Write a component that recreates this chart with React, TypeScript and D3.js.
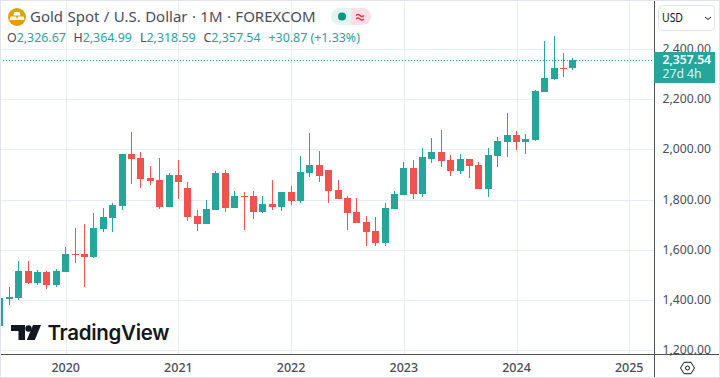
import React from "react";
import * as d3 from "d3";

const W = 720, H = 378;
const months = ["2019-06","2019-07","2019-08","2019-09","2019-10","2019-11","2019-12","2020-01","2020-02","2020-03","2020-04","2020-05","2020-06","2020-07","2020-08","2020-09","2020-10","2020-11","2020-12","2021-01","2021-02","2021-03","2021-04","2021-05","2021-06","2021-07","2021-08","2021-09","2021-10","2021-11","2021-12","2022-01","2022-02","2022-03","2022-04","2022-05","2022-06","2022-07","2022-08","2022-09","2022-10","2022-11","2022-12","2023-01","2023-02","2023-03","2023-04","2023-05","2023-06","2023-07","2023-08","2023-09","2023-10","2023-11","2023-12","2024-01","2024-02","2024-03","2024-04","2024-05","2024-06","2024-07"];
const opens = [1299,1405,1409,1517,1469,1513,1461,1513,1584,1584,1572,1683,1727,1775,1985,1966,1886,1878,1771,1898,1846,1735,1703,1759,1906,1767,1815,1815,1752,1784,1772,1831,1795,1906,1938,1918,1839,1807,1752,1712,1677,1629,1764,1819,1926,1823,1965,1993,1961,1914,1965,1938,1842,1977,2033,2061,2033,2041,2229,2281,2328,2326.67];
const highs = [1409,1453,1556,1556,1521,1517,1525,1612,1687,1703,1747,1767,1787,1985,2073,1993,1934,1966,1906,1958,1870,1759,1799,1914,1918,1834,1831,1835,1815,1878,1831,1855,1974,2069,1997,1918,1878,1815,1807,1736,1732,1787,1835,1950,1958,2009,2049,2081,1981,1985,1965,1953,2009,2053,2145,2077,2065,2237,2432,2452,2388,2364.99];
const lows = [1299,1381,1401,1465,1461,1445,1453,1513,1548,1453,1568,1672,1672,1759,1862,1846,1858,1763,1771,1803,1715,1676,1703,1759,1751,1767,1681,1724,1748,1760,1756,1780,1787,1890,1871,1787,1803,1681,1708,1617,1617,1617,1764,1819,1803,1811,1949,1930,1894,1902,1886,1842,1810,1930,1973,2001,1985,2037,2229,2277,2289,2318.59];
const closes = [1409,1413,1517,1469,1513,1461,1517,1584,1580,1572,1687,1731,1779,1985,1962,1882,1874,1771,1898,1870,1731,1703,1763,1906,1767,1815,1811,1752,1784,1772,1831,1795,1910,1938,1894,1835,1803,1748,1708,1673,1629,1768,1823,1926,1823,1970,1993,1957,1914,1965,1934,1842,1981,2037,2061,2033,2045,2233,2285,2328,2324,2357.54];
const priceTicks = [1200,1400,1600,1800,2000,2200,2400];
const yearTicks = [2020,2021,2022,2023,2024,2025];

const UP = "#26a69a", DOWN = "#ef5350", GRID = "#e6edf3", AXIS = "#50535e", TEXT = "#4a4d57";
const FONT = "'Noto Sans', 'Open Sans', sans-serif";

const y = d3.scaleLinear().domain([1200, 2400]).range([350.5, 49.5]);
const monthIndex = (m: string) => { const [a, b] = m.split("-").map(Number); return (a - 2020) * 12 + (b - 1); };
const x = d3.scaleLinear().domain([0, 12]).range([65.7, 178.4]);
const fmt = d3.format(",.2f");
const snap = (v: number) => Math.round(v);

export default function App() {
  const last = closes[closes.length - 1];
  return (
    <svg width={W} height={H} viewBox={`0 0 ${W} ${H}`} style={{ position: "fixed", left: 0, top: 0, background: "#fff", fontFamily: FONT }}>
      <rect x={0} y={0} width={W} height={H} fill="#fff" />
      <g shapeRendering="crispEdges">
        {yearTicks.map(t => <line key={t} x1={snap(x(monthIndex(`${t}-01`)))+0.5} x2={snap(x(monthIndex(`${t}-01`)))+0.5} y1={0} y2={354} stroke={GRID} />)}
        {priceTicks.map(t => <line key={t} x1={0} x2={654} y1={Math.floor(y(t))+0.5} y2={Math.floor(y(t))+0.5} stroke={GRID} />)}
      </g>
      <g shapeRendering="crispEdges">
        {months.map((m, i) => {
          const cx = Math.floor(x(monthIndex(m)));
          const c = closes[i] >= opens[i] ? UP : DOWN;
          const top = Math.round(y(Math.max(opens[i], closes[i])));
          const bot = Math.round(y(Math.min(opens[i], closes[i])));
          return (
            <g key={m}>
              <rect x={cx} y={y(highs[i])} width={1} height={y(lows[i]) - y(highs[i])} fill={c} />
              <rect x={cx - 3} y={top} width={7} height={Math.max(1, bot - top)} fill={c} />
            </g>
          );
        })}
      </g>
      <line x1={0} x2={654} y1={Math.floor(y(last))+0.5} y2={Math.floor(y(last))+0.5} stroke={UP} strokeDasharray="1 2" />

      {/* legend */}
      <g>
        <circle cx={17} cy={17} r={9} fill="#e0a100" />
        <path d="M14.5 12h5l1.2 3.6h-7.4z M10.5 16.6h5.6l1 3.4h-7.6z M17.9 16.6h5.6l1 3.4h-7.6z" fill="#fff" />
        <text x={30} y={22} fontSize={15} wordSpacing={0.5} fill={TEXT}>Gold Spot / U.S. Dollar · 1M · FOREXCOM</text>
        <path d="M351 8h-11.5a8.5 8.5 0 0 0 0 17H351z" fill="#e3f4f1" />
        <path d="M351 8h11.5a8.5 8.5 0 0 1 0 17H351z" fill="#fde0e6" />
        <circle cx={342} cy={16.5} r={4} fill="#089981" />
        <path d="M356 15.5q2-2 4 0t4 0M356 19q2-2 4 0t4 0" fill="none" stroke="#f23645" strokeWidth={1.3} />
        <text y={42} fontSize={12.4}>
          <tspan x={7} fill={TEXT}>O</tspan><tspan fill={UP}>2,326.67</tspan>
          <tspan x={73.5} fill={TEXT}>H</tspan><tspan fill={UP}>2,364.99</tspan>
          <tspan x={140} fill={TEXT}>L</tspan><tspan fill={UP}>2,318.59</tspan>
          <tspan x={203.5} fill={TEXT}>C</tspan><tspan fill={UP}>2,357.54</tspan>
          <tspan x={268.5} fill={UP}>+30.87 (+1.33%)</tspan>
        </text>
      </g>

      {/* watermark */}
      <g fill="#131722">
        <path d="M11 325h14v15h-6.5v-9H11z" />
        <circle cx={28.5} cy={328.5} r={3.2} />
        <path d="M33 325h8l-6.2 15h-8z" />
        <text x={47.5} y={340} fontSize={20.5} fontWeight={600} fontFamily="Inter, sans-serif" letterSpacing={-0.3}>TradingView</text>
      </g>

      {/* axes */}
      <g shapeRendering="crispEdges">
        <line x1={654.5} x2={654.5} y1={0} y2={378} stroke={AXIS} />
        <line x1={0} x2={720} y1={354.5} y2={354.5} stroke={AXIS} />
      </g>
      {priceTicks.map(t => (
        <text key={t} x={662.5} y={y(t) + 3.5} fontSize={12.2} fill={TEXT}>{fmt(t)}</text>
      ))}
      {yearTicks.map(t => (
        <text key={t} x={x(monthIndex(`${t}-01`))} y={371.5} fontSize={12.5} fontWeight={500} textAnchor="middle" fill={TEXT}>{t}</text>
      ))}

      {/* last price tag */}
      <rect x={654} y={52} width={61} height={31} fill={UP} shapeRendering="crispEdges" />
      <text x={662.5} y={64} fontSize={12.2} fontWeight={600} fill="#fff">{fmt(last)}</text>
      <text x={662.5} y={78} fontSize={12.2} fill="#dff3f0">27d 4h</text>

      {/* currency selector */}
      <rect x={658.5} y={5.5} width={56} height={25} rx={4} fill="#fff" stroke="#e0e3eb" />
      <text x={662} y={22} fontSize={12} textLength={21} lengthAdjust="spacingAndGlyphs" fill="#131722">USD</text>
      <path d="M705 17l3 2.5 3-2.5" fill="none" stroke="#131722" />

      {/* settings */}
      <path d="M680.5 368l3.5-5.7h7l3.5 5.7-3.5 5.7h-7z" fill="none" stroke="#131722" />
      <circle cx={687.5} cy={368} r={2} fill="none" stroke="#131722" />
      <rect x={0.5} y={0.5} width={719} height={377} fill="none" stroke="#e0e3eb" shapeRendering="crispEdges" />
    </svg>
  );
}
